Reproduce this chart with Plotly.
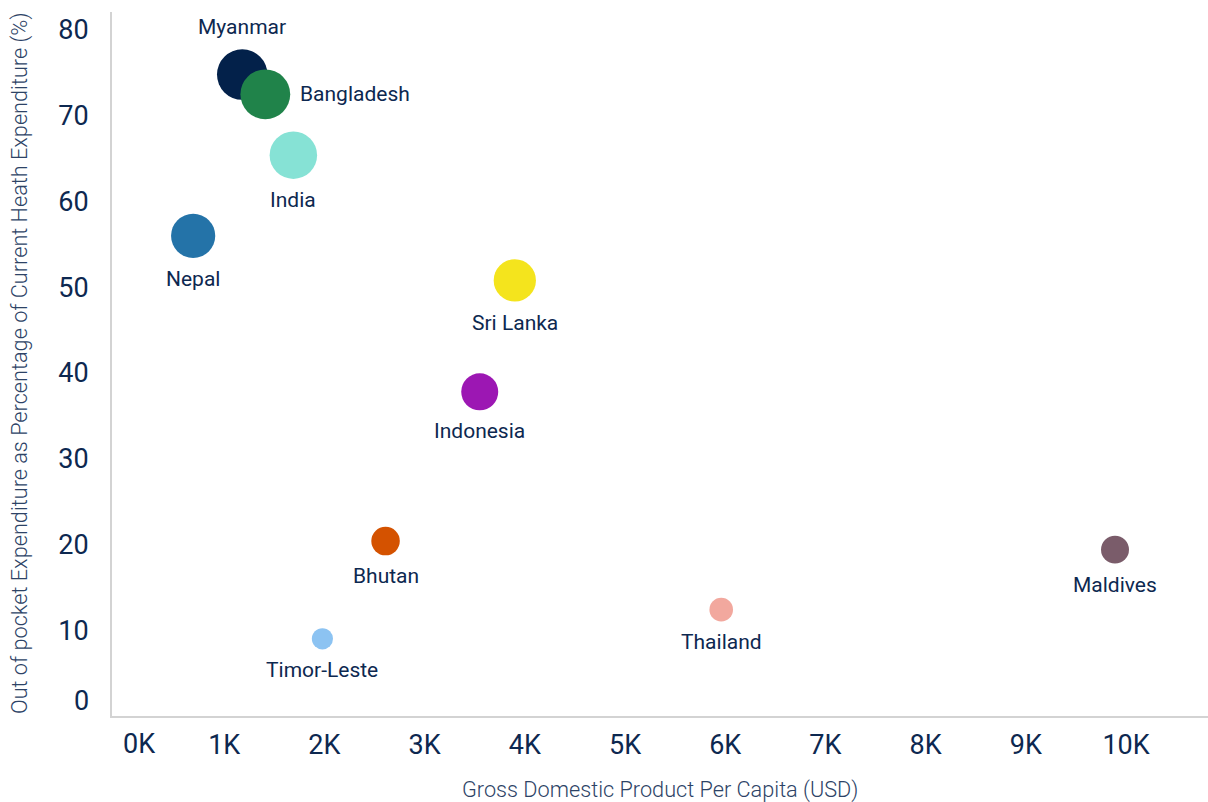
import math
import plotly.graph_objects as go

# Out-of-pocket health spending vs GDP per capita, South & South-East Asia
countries = ["Myanmar", "Bangladesh", "India", "Nepal", "Sri Lanka",
             "Indonesia", "Bhutan", "Timor-Leste", "Thailand", "Maldives"]
gdp_per_capita = [1180, 1410, 1690, 690, 3900, 3550, 2610, 1980, 5960, 9890]
oop_share = [74.8, 72.5, 65.4, 56.0, 50.8, 37.8, 20.4, 9.0, 12.4, 19.4]

colors = ["#03214a", "#20834a", "#86e2d5", "#2473a8", "#f4e41d",
          "#9c17b3", "#d45200", "#8cc3f2", "#f2a89e", "#7a5c6a"]
label_sides = ["top", "right", "bottom", "bottom", "bottom",
               "bottom", "bottom", "bottom", "bottom", "bottom"]

x_tick_vals = [1000, 2000, 3000, 4000, 5000, 6000, 7000, 8000, 9000, 10000]
x_tick_text = ["1K", "2K", "3K", "4K", "5K", "6K", "7K", "8K", "9K", "10K"]
y_tick_vals = [10, 20, 30, 40, 50, 60, 70, 80]

TEXT = "#0d2850"
TITLE = "#2d4366"
AXIS = "#d3d3d3"
FONT = "Roboto"
TICK_SIZE = 27
LABEL_SIZE = 21
TITLE_SIZE = 21.7


def bubble_radius(v):
    # bubble area grows with the out-of-pocket share
    return math.sqrt(8 * v + 40)


radii = [bubble_radius(v) for v in oop_share]

fig = go.Figure()
fig.add_trace(go.Scatter(
    x=gdp_per_capita, y=oop_share, mode="markers",
    text=countries, hoverinfo="text",
    marker=dict(size=[2 * r for r in radii], color=colors, opacity=1,
                line=dict(width=0)),
    showlegend=False,
))

# country labels placed just outside each bubble
for name, gx, oy, r, side in zip(countries, gdp_per_capita, oop_share, radii, label_sides):
    if side == "right":
        kw = dict(xanchor="left", yanchor="middle", xshift=r + 8, yshift=0)
    elif side == "top":
        kw = dict(xanchor="center", yanchor="middle", xshift=0, yshift=r + 22)
    else:
        kw = dict(xanchor="center", yanchor="middle", xshift=0, yshift=-(r + 21))
    fig.add_annotation(x=gx, y=oy, xref="x", yref="y", text=name, showarrow=False,
                       font=dict(family=FONT, size=LABEL_SIZE, color=TEXT), **kw)

fig.update_layout(
    width=1208, height=802,
    margin=dict(l=112, r=0, t=12, b=86),
    paper_bgcolor="white", plot_bgcolor="white",
    font=dict(family=FONT, color=TEXT),
    xaxis=dict(range=[-120, 10818], tickvals=x_tick_vals, ticktext=x_tick_text,
               showgrid=False, zeroline=False, showline=True, linecolor=AXIS,
               linewidth=2, ticks="", ticklabelstandoff=4,
               tickfont=dict(family=FONT, size=TICK_SIZE, color=TEXT)),
    yaxis=dict(range=[0, 82.1], tickvals=y_tick_vals,
               showgrid=False, zeroline=False, showline=True, linecolor=AXIS,
               linewidth=2, ticks="", ticklabelstandoff=16,
               tickfont=dict(family=FONT, size=TICK_SIZE, color=TEXT)),
)

# origin labels are nudged inside the axis corner
fig.add_annotation(x=0, y=0, xref="x", yref="paper", text="0K", showarrow=False,
                   xshift=15, yshift=-28, yanchor="middle",
                   font=dict(family=FONT, size=TICK_SIZE, color=TEXT))
fig.add_annotation(x=0, y=0, xref="paper", yref="y", text="0", showarrow=False,
                   xshift=-21, yshift=15, xanchor="right",
                   font=dict(family=FONT, size=TICK_SIZE, color=TEXT))

# axis titles
fig.add_annotation(x=0.5, y=0, xref="paper", yref="paper", showarrow=False,
                   text="Gross Domestic Product Per Capita (USD)",
                   yshift=-74, yanchor="middle",
                   font=dict(family=FONT, size=TITLE_SIZE, color=TITLE, weight=300))
fig.add_annotation(x=0, y=0.5, xref="paper", yref="paper", showarrow=False,
                   text="Out of pocket Expenditure as Percentage of Current Heath Expenditure (%)",
                   xshift=-92, textangle=-90, xanchor="center",
                   font=dict(family=FONT, size=TITLE_SIZE, color=TITLE, weight=300))

fig.write_html("out.html")
